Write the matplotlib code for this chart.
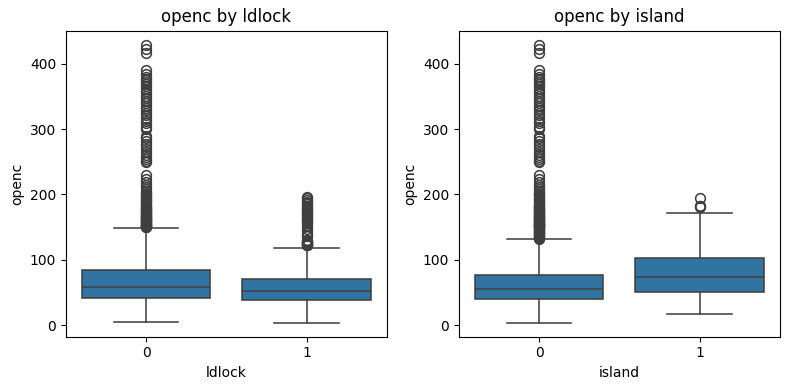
import matplotlib
matplotlib.use("Agg")
import matplotlib.pyplot as plt

# box statistics (openc)
groups = ["ldlock", "island"]
tick_labels = ["0", "1"]

ldlock_q1 = [41.7, 38.7]
ldlock_med = [58.5, 52.4]
ldlock_q3 = [85.0, 71.0]
ldlock_lo = [5.0, 3.6]
ldlock_hi = [148.5, 118.0]

island_q1 = [40.0, 50.9]
island_med = [56.0, 73.8]
island_q3 = [77.3, 102.7]
island_lo = [3.6, 16.3]
island_hi = [131.7, 171.8]

# outliers shared by the big groups (upper tail)
upper_tail = [429, 423, 417, 391, 384, 380, 377, 375, 372, 369, 366, 362, 359,
              355, 351, 347, 343, 340, 336, 333, 329, 325, 321, 317, 313, 309,
              304, 300, 290, 286, 282, 278, 274, 270, 265, 261, 257, 254, 251,
              249, 230]
mid_tail = [224, 219, 215, 212, 209, 206, 203, 201, 200, 198, 197, 195, 194,
            192, 191, 189, 188, 186, 185, 183, 182, 181, 180, 179, 178, 177,
            176, 175, 174, 173, 172, 171, 170, 169, 168, 167, 166, 165, 164,
            163.5, 163, 162, 161, 160.5, 160, 159, 158, 157.5, 157, 156, 155.5,
            155, 154, 153.5, 153, 152, 151.5, 151, 150.5, 150]
island0_low_tail = [149, 148, 147, 146, 145, 144, 143, 142, 141, 140, 139, 138,
                    137, 136, 135, 134, 133, 132]

ldlock_fliers = [upper_tail + mid_tail,
                 [196.6, 194, 191.6, 189, 186.5, 185, 183, 181, 179, 177, 176,
                  174.5, 173.8, 172, 170, 168, 166, 164.5, 163, 161, 159.5,
                  158, 156, 154, 152, 147, 142, 138, 135.7, 131, 129, 128, 127,
                  126, 125, 124.5, 124, 123, 122.5, 122]]
island_fliers = [upper_tail + mid_tail + island0_low_tail,
                 [194, 183, 182, 180.5]]

box_color = "#3274a1"
line_color = "#3f3f3f"
lw = 1.125


def make_stats(q1, med, q3, lo, hi, fliers):
    out = []
    for i in range(len(q1)):
        out.append({"q1": q1[i], "med": med[i], "q3": q3[i],
                    "whislo": lo[i], "whishi": hi[i], "fliers": fliers[i]})
    return out


stats = {
    "ldlock": make_stats(ldlock_q1, ldlock_med, ldlock_q3, ldlock_lo, ldlock_hi, ldlock_fliers),
    "island": make_stats(island_q1, island_med, island_q3, island_lo, island_hi, island_fliers),
}

fig, axes = plt.subplots(1, 2, figsize=(7.9, 3.9), dpi=100)
fig.subplots_adjust(left=0.0835, right=0.987, bottom=0.137, top=0.921, wspace=0.225)

for ax, g in zip(axes, groups):
    ax.bxp(stats[g], positions=[0, 1], widths=0.8, patch_artist=True,
           boxprops={"facecolor": box_color, "edgecolor": line_color, "linewidth": lw},
           medianprops={"color": line_color, "linewidth": lw},
           whiskerprops={"color": line_color, "linewidth": lw},
           capprops={"color": line_color, "linewidth": lw},
           flierprops={"marker": "o", "markerfacecolor": "none",
                       "markeredgecolor": line_color, "markersize": 7,
                       "markeredgewidth": lw})
    ax.set_xlim(-0.5, 1.5)
    ax.set_xticks([0, 1])
    ax.set_xticklabels(tick_labels)
    ax.set_ylim(-17.5, 450.5)
    ax.set_yticks([0, 100, 200, 300, 400])
    ax.set_title(f"openc by {g}")
    ax.set_xlabel(g)
    ax.set_ylabel("openc")

fig.savefig("out.png")
